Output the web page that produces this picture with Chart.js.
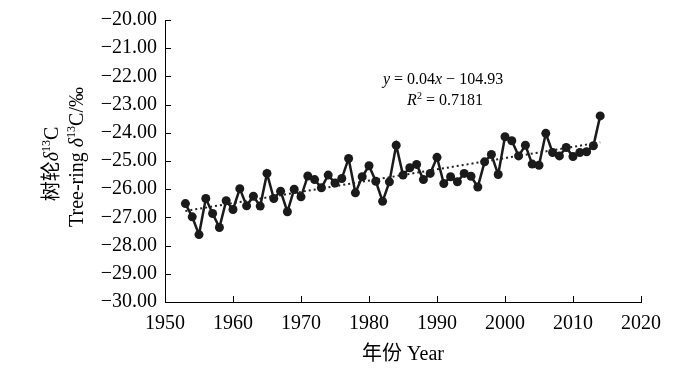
<!DOCTYPE html>
<html lang="zh">
<head>
    <meta charset="UTF-8">
    <title>Tree-ring δ13C</title>
    <script src="https://cdn.jsdelivr.net/npm/chart.js"></script>
    <style>
        body {
            margin: 0;
            background: #fff;
        }
        .chart-container {
            position: relative;
            width: 700px;
            height: 379px;
        }
    </style>
</head>
<body>
    <div class="chart-container">
        <canvas id="d13cChart"></canvas>
    </div>

    <script>
        const years = [
            1953, 1954, 1955, 1956, 1957, 1958, 1959, 1960, 1961, 1962,
            1963, 1964, 1965, 1966, 1967, 1968, 1969, 1970, 1971, 1972,
            1973, 1974, 1975, 1976, 1977, 1978, 1979, 1980, 1981, 1982,
            1983, 1984, 1985, 1986, 1987, 1988, 1989, 1990, 1991, 1992,
            1993, 1994, 1995, 1996, 1997, 1998, 1999, 2000, 2001, 2002,
            2003, 2004, 2005, 2006, 2007, 2008, 2009, 2010, 2011, 2012,
            2013, 2014
        ];
        const d13c = [
            -26.51, -26.98, -27.61, -26.33, -26.86, -27.36, -26.41, -26.72, -25.98, -26.59,
            -26.25, -26.60, -25.44, -26.33, -26.07, -26.80, -26.00, -26.27, -25.53, -25.66,
            -25.95, -25.50, -25.78, -25.62, -24.91, -26.13, -25.56, -25.17, -25.72, -26.43,
            -25.74, -24.44, -25.50, -25.24, -25.12, -25.66, -25.44, -24.87, -25.80, -25.56,
            -25.74, -25.44, -25.54, -25.92, -25.03, -24.77, -25.48, -24.14, -24.28, -24.82,
            -24.44, -25.11, -25.15, -24.02, -24.70, -24.82, -24.52, -24.84, -24.70, -24.67,
            -24.46, -23.40
        ];
        const xTicks = [1950, 1960, 1970, 1980, 1990, 2000, 2010, 2020];
        const yTicks = [-30, -29, -28, -27, -26, -25, -24, -23, -22, -21, -20];
        const r2Text = '0.7181';

        const serif = '"Liberation Serif", "Noto Sans CJK SC", serif';
        const MINUS = '\u2212';

        // least squares fit of the series, drawn over the data span
        function linearFit(xs, ys) {
            const n = xs.length;
            const mx = xs.reduce((a, b) => a + b, 0) / n;
            const my = ys.reduce((a, b) => a + b, 0) / n;
            let sxy = 0, sxx = 0;
            for (let i = 0; i < n; i++) {
                sxy += (xs[i] - mx) * (ys[i] - my);
                sxx += (xs[i] - mx) * (xs[i] - mx);
            }
            const slope = sxy / sxx;
            return x => my + slope * (x - mx);
        }
        const fit = linearFit(years, d13c);
        const firstYear = years[0];
        const lastYear = years[years.length - 1];

        // text made of pieces: plain, italic, superscript
        function drawRich(ctx, parts, x, y, size) {
            const fontFor = p => (p.italic ? 'italic ' : '') + (p.sup ? Math.round(size * 0.62) : size) + 'px ' + serif;
            let total = 0;
            parts.forEach(p => { ctx.font = fontFor(p); total += ctx.measureText(p.t).width; });
            let cx = x - total / 2;
            ctx.textBaseline = 'middle';
            ctx.textAlign = 'left';
            parts.forEach(p => {
                ctx.font = fontFor(p);
                ctx.fillText(p.t, cx, p.sup ? y - size * 0.3 : y);
                cx += ctx.measureText(p.t).width;
            });
        }

        const decorations = {
            id: 'decorations',
            afterDraw(chart) {
                const ctx = chart.ctx;
                const xs = chart.scales.x;
                const ys = chart.scales.y;
                const area = chart.chartArea;
                ctx.save();
                ctx.strokeStyle = '#000';
                ctx.fillStyle = '#000';
                ctx.lineWidth = 1;

                // inward tick marks
                xTicks.forEach(v => {
                    const px = Math.round(xs.getPixelForValue(v)) + 0.5;
                    ctx.beginPath();
                    ctx.moveTo(px, area.bottom);
                    ctx.lineTo(px, area.bottom - 6);
                    ctx.stroke();
                });
                yTicks.forEach(v => {
                    const py = Math.round(ys.getPixelForValue(v)) + 0.5;
                    ctx.beginPath();
                    ctx.moveTo(area.left, py);
                    ctx.lineTo(area.left + 6, py);
                    ctx.stroke();
                });

                // x axis title
                drawRich(ctx, [{ t: '年份 Year' }], (area.left + area.right) / 2, 355, 20);

                // y axis title, two rotated lines
                ctx.save();
                ctx.translate(53, 164);
                ctx.rotate(-Math.PI / 2);
                drawRich(ctx, [{ t: '树轮' }, { t: 'δ', italic: true }, { t: '13', sup: true }, { t: 'C' }], 0, 0, 20);
                ctx.restore();
                ctx.save();
                ctx.translate(78, 157);
                ctx.rotate(-Math.PI / 2);
                drawRich(ctx, [{ t: 'Tree-ring ' }, { t: 'δ', italic: true }, { t: '13', sup: true }, { t: 'C/‰' }], 0, 0, 20);
                ctx.restore();

                // regression annotation
                drawRich(ctx, [{ t: 'y', italic: true }, { t: ' = 0.04' }, { t: 'x', italic: true }, { t: ' ' + MINUS + ' 104.93' }], 443, 80, 16);
                drawRich(ctx, [{ t: 'R', italic: true }, { t: '2', sup: true }, { t: ' = ' + r2Text }], 445, 101, 16);
                ctx.restore();
            }
        };

        new Chart(document.getElementById('d13cChart'), {
            type: 'line',
            data: {
                datasets: [
                    {
                        label: 'trend',
                        data: [
                            { x: firstYear, y: fit(firstYear) },
                            { x: lastYear, y: fit(lastYear) }
                        ],
                        borderColor: '#222',
                        borderWidth: 2,
                        borderDash: [2, 3],
                        pointRadius: 0,
                        fill: false
                    },
                    {
                        label: 'δ13C',
                        data: years.map((y, i) => ({ x: y, y: d13c[i] })),
                        borderColor: '#1a1a1a',
                        backgroundColor: '#1a1a1a',
                        borderWidth: 2.5,
                        pointRadius: 4.5,
                        pointBorderWidth: 0,
                        tension: 0,
                        fill: false
                    }
                ]
            },
            options: {
                responsive: true,
                maintainAspectRatio: false,
                animation: false,
                layout: { padding: { top: 20, right: 59, left: 0, bottom: 0 } },
                plugins: {
                    legend: { display: false },
                    tooltip: { enabled: false }
                },
                scales: {
                    x: {
                        type: 'linear',
                        min: 1950,
                        max: 2020,
                        afterBuildTicks: scale => { scale.ticks = xTicks.map(v => ({ value: v })); },
                        afterFit: scale => { scale.height = 77; },
                        grid: { display: false, drawTicks: false },
                        border: { display: true, color: '#000', width: 1 },
                        ticks: {
                            color: '#000',
                            padding: 10,
                            maxRotation: 0,
                            font: { family: serif, size: 20 },
                            callback: v => String(v)
                        }
                    },
                    y: {
                        min: -30,
                        max: -20,
                        afterBuildTicks: scale => { scale.ticks = yTicks.map(v => ({ value: v })); },
                        afterFit: scale => { scale.width = 165; },
                        grid: { display: false, drawTicks: false },
                        border: { display: true, color: '#000', width: 1 },
                        ticks: {
                            color: '#000',
                            padding: 8,
                            font: { family: serif, size: 20 },
                            callback: v => MINUS + Math.abs(v).toFixed(2)
                        }
                    }
                }
            },
            plugins: [decorations]
        });
    </script>
</body>
</html>
